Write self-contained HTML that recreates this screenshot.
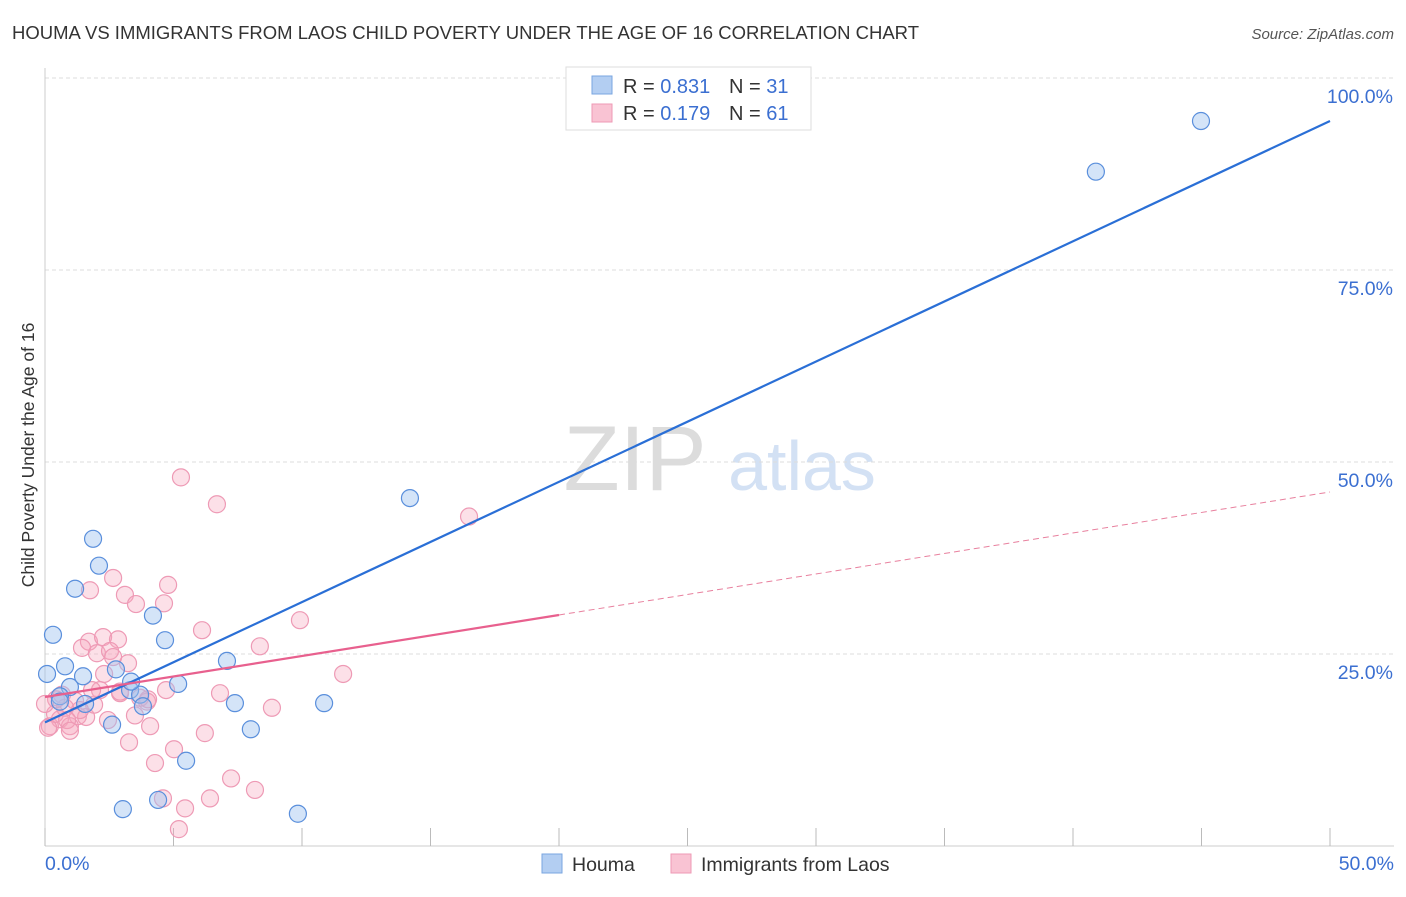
<!DOCTYPE html>
<html><head><meta charset="utf-8">
<style>
body{margin:0;background:#fff;font-family:"Liberation Sans",sans-serif;}
svg text{font-family:"Liberation Sans",sans-serif;}
</style></head>
<body>
<svg id="chart" width="1406" height="892" xmlns="http://www.w3.org/2000/svg">
<text x="12" y="39" font-size="18.5" fill="#333">HOUMA VS IMMIGRANTS FROM LAOS CHILD POVERTY UNDER THE AGE OF 16 CORRELATION CHART</text>
<text x="1394" y="39" font-size="15" fill="#555" font-style="italic" text-anchor="end">Source: ZipAtlas.com</text>
<text x="34" y="455" font-size="17.5" fill="#333" text-anchor="middle" transform="rotate(-90 34 455)">Child Poverty Under the Age of 16</text>
<g>
<text x="635" y="490" font-size="92" fill="#dcdcdc" font-family="Liberation Serif" text-anchor="middle">ZIP</text>
<text x="802" y="490" font-size="70" fill="#d3e1f4" text-anchor="middle">atlas</text>
</g>
<g id="grid"></g>
<g id="axes"></g>
<g id="points"></g>
<g id="lines"></g>
<g>
<rect x="566" y="67" width="245" height="63" fill="#fff" stroke="#ddd"/>
<rect x="592" y="76" width="20" height="18" fill="#b3cef2" stroke="#7aa6e0"/>
<rect x="592" y="104" width="20" height="18" fill="#f9c3d3" stroke="#ee9ab5"/>
<text x="623" y="93" font-size="20" fill="#333">R = <tspan fill="#3b6fd1">0.831</tspan></text>
<text x="729" y="93" font-size="20" fill="#333">N = <tspan fill="#3b6fd1">31</tspan></text>
<text x="623" y="120" font-size="20" fill="#333">R = <tspan fill="#3b6fd1">0.179</tspan></text>
<text x="729" y="120" font-size="20" fill="#333">N = <tspan fill="#3b6fd1">61</tspan></text>
</g>
<g>
<rect x="542" y="854" width="20" height="19" fill="#b3cef2" stroke="#7aa6e0"/>
<text x="572" y="871" font-size="19.5" fill="#333">Houma</text>
<rect x="671" y="854" width="20" height="19" fill="#f9c3d3" stroke="#ee9ab5"/>
<text x="701" y="871" font-size="19.5" fill="#333">Immigrants from Laos</text>
</g>
</svg>
<script>
const xTicks=[0,5,10,15,20,25,30,35,40,45,50];
const yTicks=[25,50,75,100];
const yTickLabels=["25.0%","50.0%","75.0%","100.0%"];
const houmaX=[0.08,0.31,0.78,1.17,1.87,2.1,0.97,1.48,0.58,1.56,2.61,2.76,3.03,3.31,3.7,3.81,4.2,4.67,4.4,5.18,5.49,7.08,7.39,8.01,9.84,10.86,14.2,40.89,44.98,0.58,3.35];
const houmaY=[22.4,27.5,23.4,33.5,40.0,36.5,20.7,22.1,19.5,18.5,15.8,23.0,4.8,20.3,19.7,18.2,30.0,26.8,6.0,21.1,11.1,24.1,18.6,15.2,4.2,18.6,45.3,87.8,94.4,18.8,21.4];
const laosX=[5.29,6.69,16.5,1.75,2.65,3.11,3.54,4.79,4.63,1.71,2.26,2.84,1.44,2.02,2.53,3.23,1.17,2.3,1.28,0.58,0.19,0.39,0.97,1.6,1.91,2.92,3.5,3.97,4.71,4.09,3.27,4.28,5.02,6.22,5.45,5.21,6.42,7.24,8.17,8.83,6.81,8.36,9.92,11.6,6.11,0.78,0.12,2.14,2.65,3.7,2.45,0.66,1.36,0.43,0.0,0.86,1.83,2.92,4.59,4.01,0.97];
const laosY=[48.0,44.5,42.9,33.3,34.9,32.7,31.5,34.0,31.6,26.6,27.2,26.9,25.8,25.1,25.4,23.8,18.9,22.4,16.9,16.5,15.6,17.2,15.6,16.8,18.4,19.9,17.0,18.8,20.3,15.6,13.5,10.8,12.6,14.7,4.9,2.2,6.2,8.8,7.3,18.0,19.9,26.0,29.4,22.4,28.1,18.0,15.4,20.3,24.6,19.3,16.4,19.7,17.7,19.1,18.5,16.4,20.3,20.1,6.2,19.1,15.0];
const houmaLine=[16.1,94.4];
const laosLine=[19.4,46.1];
const laosSolidEnd=20;
const NS="http://www.w3.org/2000/svg";
const X=v=>45+v/50*1285, Y=v=>846-v/100*768;
function mk(tag,attrs,parent){const e=document.createElementNS(NS,tag);for(const k in attrs)e.setAttribute(k,attrs[k]);parent.appendChild(e);return e;}
const grid=document.getElementById('grid'),axes=document.getElementById('axes'),pts=document.getElementById('points'),lines=document.getElementById('lines');
yTicks.forEach((t,i)=>{
 const g=mk('line',{x1:45,x2:1394,y1:Y(t),y2:Y(t),stroke:'#ddd','stroke-dasharray':'4,3'},grid);
 
 
 const l=mk('text',{x:1393,y:Y(t)+25,'font-size':19.5,fill:'#3b6fd1','text-anchor':'end'},axes);
 l.textContent=yTickLabels[i];
 
 
});
const ax=mk('line',{x1:45,x2:1394,y1:846,y2:846,stroke:'#ccc'},axes);


const ay=mk('line',{x1:45,x2:45,y1:68,y2:846,stroke:'#ccc'},axes);


xTicks.forEach(t=>{
 const tk=mk('line',{x1:X(t),x2:X(t),y1:828,y2:846,stroke:'#bbb'},axes);
 
 
});
[[0,'0.0%','start',45],[50,'50.0%','end',1394]].forEach(([v,s,a,x])=>{
 const t=mk('text',{x:x,y:870,'font-size':19.5,fill:'#3b6fd1','text-anchor':a},axes);
 t.textContent=s;
 
 
});
laosX.forEach((x,i)=>{
 const c=mk('circle',{cx:X(x),cy:Y(laosY[i]),r:8.5,fill:'rgba(246,166,190,0.35)',stroke:'#ee9ab5','stroke-width':1.2},pts);
 
 
});
houmaX.forEach((x,i)=>{
 const c=mk('circle',{cx:X(x),cy:Y(houmaY[i]),r:8.5,fill:'rgba(160,195,240,0.45)',stroke:'#5a8fdc','stroke-width':1.2},pts);
 
 
});
const ly=x=>laosLine[0]+(laosLine[1]-laosLine[0])*x/50;
const hl=mk('line',{x1:X(0),y1:Y(houmaLine[0]),x2:X(50),y2:Y(houmaLine[1]),stroke:'#2a6fd6','stroke-width':2.2},lines);


const pl=mk('line',{x1:X(0),y1:Y(ly(0)),x2:X(laosSolidEnd),y2:Y(ly(laosSolidEnd)),stroke:'#e8608e','stroke-width':2.2},lines);


const pd=mk('line',{x1:X(laosSolidEnd),y1:Y(ly(laosSolidEnd)),x2:X(50),y2:Y(ly(50)),stroke:'#e8809e','stroke-width':1,'stroke-dasharray':'6,4'},lines);


</script>
</body></html>
